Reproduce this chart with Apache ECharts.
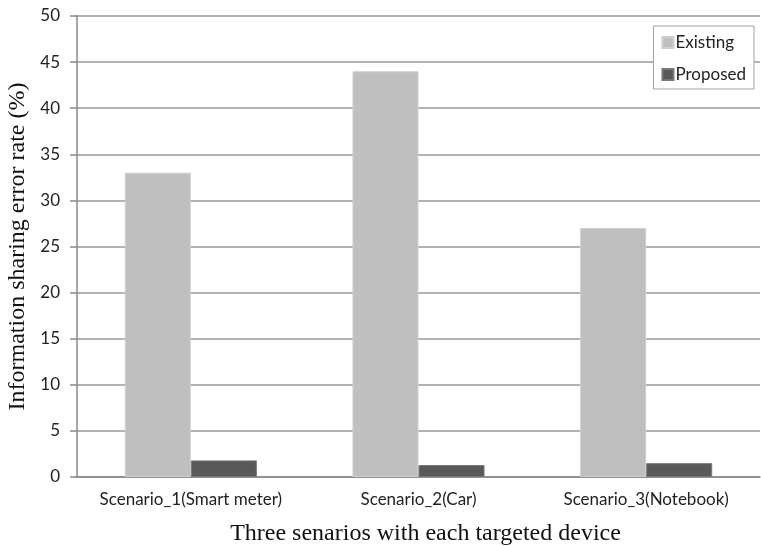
<!DOCTYPE html>
<html>
<head>
<meta charset="utf-8">
<script src="https://cdn.jsdelivr.net/npm/echarts@6/dist/echarts.min.js"></script>
<style>
  html, body { margin: 0; padding: 0; background: #fff; }
  #chart { width: 761px; height: 546px; }
</style>
</head>
<body>
<div id="chart"></div>
<script>
// Error rate per scenario, existing vs proposed scheme
const categories = ['Scenario_1(Smart meter)', 'Scenario_2(Car)', 'Scenario_3(Notebook)'];
const existingValues = [33, 44, 27];
const proposedValues = [1.8, 1.3, 1.5];
const seriesNames = ['Existing', 'Proposed'];
const yTicks = { min: 0, max: 50, interval: 5 };

const sansFont = 'Lato, "Open Sans", sans-serif';
const serifFont = '"Liberation Serif", "DejaVu Serif", serif';

const chart = echarts.init(document.getElementById('chart'), null, { renderer: 'canvas' });
chart.setOption({
  animation: false,
  backgroundColor: '#ffffff',
  grid: { left: 77, right: 1, top: 16, bottom: 69, containLabel: false, outerBoundsMode: 'none' },
  legend: {
    data: seriesNames,
    orient: 'vertical',
    right: 7,
    top: 26,
    padding: [8, 8, 6, 8],
    itemGap: 15,
    itemWidth: 11,
    itemHeight: 11,
    borderColor: '#a0a0a0',
    borderWidth: 1,
    backgroundColor: '#ffffff',
    textStyle: { fontFamily: sansFont, fontSize: 17, color: '#222', padding: [0, 0, 0, -3] },
    icon: 'rect'
  },
  xAxis: {
    type: 'category',
    data: categories,
    name: 'Three senarios with each targeted device',
    nameLocation: 'middle',
    nameGap: 45,
    nameTextStyle: { fontFamily: serifFont, fontSize: 24, color: '#111', padding: [0, 0, 0, 14] },
    axisLine: { lineStyle: { color: '#888', width: 1.5 } },
    axisTick: { show: false },
    axisLabel: { fontFamily: sansFont, fontSize: 17, color: '#222', margin: 14, interval: 0 }
  },
  yAxis: {
    type: 'value',
    min: yTicks.min,
    max: yTicks.max,
    interval: yTicks.interval,
    name: 'Information sharing error rate (%)',
    nameLocation: 'middle',
    nameGap: 36,
    nameTextStyle: { fontFamily: serifFont, fontSize: 24, color: '#111' },
    axisLine: { show: true, lineStyle: { color: '#888', width: 1.5 } },
    axisTick: { show: true, length: 7, lineStyle: { color: '#888', width: 1.5 } },
    axisLabel: { fontFamily: sansFont, fontSize: 17, color: '#222', margin: 17 },
    splitLine: { lineStyle: { color: '#999', width: 1.5 } }
  },
  series: [
    {
      name: seriesNames[0],
      type: 'bar',
      data: existingValues,
      barGap: '0%',
      barCategoryGap: '42%',
      itemStyle: { color: '#bfbfbf', borderColor: '#cfcfcf', borderWidth: 1 }
    },
    {
      name: seriesNames[1],
      type: 'bar',
      data: proposedValues,
      itemStyle: { color: '#595959', borderColor: '#777', borderWidth: 1 }
    }
  ]
});
</script>
</body>
</html>
